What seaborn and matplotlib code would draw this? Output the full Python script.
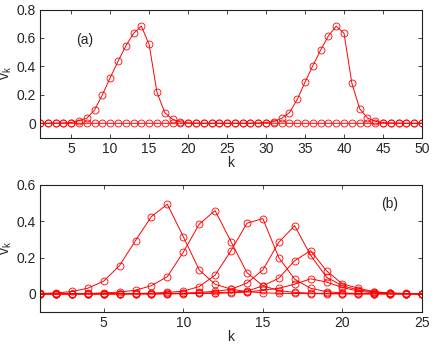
import numpy as np
import pandas as pd
import seaborn as sns
import matplotlib.pyplot as plt

# ----------------------------------------
# Data
# ----------------------------------------

k_top = np.arange(1, 51)
pulse_a = [0, 0, 0.001, 0.002, 0.005, 0.019, 0.035, 0.094, 0.2, 0.32,
           0.435, 0.543, 0.632, 0.683, 0.554, 0.218, 0.075, 0.028, 0.01, 0.003,
           0.001, 0, 0, 0, 0, 0, 0, 0, 0, 0,
           0, 0, 0, 0, 0, 0, 0, 0, 0, 0,
           0, 0, 0, 0, 0, 0, 0, 0, 0, 0]
pulse_b = [0, 0, 0, 0, 0, 0, 0, 0, 0, 0,
           0, 0, 0, 0, 0, 0, 0, 0, 0, 0,
           0, 0, 0, 0, 0, 0, 0, 0.001, 0.002, 0.005,
           0.012, 0.035, 0.075, 0.168, 0.29, 0.405, 0.515, 0.615, 0.683, 0.632,
           0.283, 0.103, 0.037, 0.014, 0.005, 0.002, 0.001, 0, 0, 0]

k_bot = np.arange(1, 26)
curve_1 = [0.002, 0.005, 0.013, 0.031, 0.07, 0.156, 0.294, 0.426, 0.494, 0.316,
           0.132, 0.053, 0.026, 0.012, 0.006, 0.003, 0.002, 0.001, 0, 0,
           0, 0, 0, 0, 0]
curve_2 = [0, 0, 0.001, 0.002, 0.005, 0.01, 0.02, 0.045, 0.095, 0.229,
           0.384, 0.459, 0.288, 0.117, 0.045, 0.018, 0.008, 0.004, 0.002, 0.001,
           0, 0, 0, 0, 0]
curve_3 = [0, 0, 0, 0, 0, 0.001, 0.002, 0.004, 0.008, 0.015,
           0.04, 0.103, 0.238, 0.389, 0.415, 0.2, 0.081, 0.031, 0.012, 0.005,
           0.002, 0.001, 0, 0, 0]
curve_4 = [0, 0, 0, 0, 0, 0, 0, 0.001, 0.002, 0.004,
           0.008, 0.014, 0.025, 0.059, 0.132, 0.284, 0.376, 0.213, 0.092, 0.044,
           0.022, 0.01, 0.004, 0.001, 0]
curve_5 = [0, 0, 0, 0, 0, 0, 0, 0, 0.001, 0.002,
           0.003, 0.006, 0.01, 0.015, 0.044, 0.086, 0.183, 0.238, 0.127, 0.055,
           0.031, 0.012, 0.005, 0.002, 0]
curve_6 = [0, 0, 0, 0, 0, 0, 0, 0, 0, 0.001,
           0.002, 0.003, 0.005, 0.01, 0.02, 0.031, 0.053, 0.083, 0.065, 0.035,
           0.015, 0.006, 0.002, 0, 0]

# ----------------------------------------
# Figure
# ----------------------------------------

sns.set_style("ticks")
plt.rcParams['font.family'] = ['Liberation Sans', 'DejaVu Sans']
plt.rcParams['mathtext.fontset'] = 'custom'
plt.rcParams['mathtext.rm'] = 'Liberation Sans'
plt.rcParams['mathtext.it'] = 'Liberation Sans'

fig = plt.figure(figsize=(4.36, 3.46), dpi=100)
ax1 = fig.add_axes([40 / 436, 1 - 137.5 / 346, 382 / 436, 128 / 346])
ax2 = fig.add_axes([40 / 436, 1 - 312 / 346, 382 / 436, 127 / 346])

line_style = dict(color='red', marker='o', markersize=5, markerfacecolor='none',
                  markeredgecolor='red', markeredgewidth=0.6, linewidth=0.7)

for vals in [pulse_a, pulse_b]:
    sns.lineplot(x=k_top, y=vals, ax=ax1, **line_style)
for vals in [curve_1, curve_2, curve_3, curve_4, curve_5, curve_6]:
    sns.lineplot(x=k_bot, y=vals, ax=ax2, **line_style)

ax1.set_xlim(1, 50)
ax1.set_ylim(-0.1, 0.8)
ax1.set_xticks([5, 10, 15, 20, 25, 30, 35, 40, 45, 50])
ax1.set_yticks([0, 0.2, 0.4, 0.6, 0.8])
ax1.set_yticklabels(['0', '0.2', '0.4', '0.6', '0.8'])
ax1.text(0.118, 0.76, '(a)', transform=ax1.transAxes, fontsize=10,
         ha='center', va='center')

ax2.set_xlim(1, 25)
ax2.set_ylim(-0.1, 0.6)
ax2.set_xticks([5, 10, 15, 20, 25])
ax2.set_yticks([0, 0.2, 0.4, 0.6])
ax2.set_yticklabels(['0', '0.2', '0.4', '0.6'])
ax2.text(0.916, 0.85, '(b)', transform=ax2.transAxes, fontsize=10,
         ha='center', va='center')

for ax in [ax1, ax2]:
    ax.tick_params(direction='in', top=True, right=True, length=3,
                   width=0.6, labelsize=10, pad=3)
    for sp in ax.spines.values():
        sp.set_linewidth(0.8)
        sp.set_color('#222222')
    ax.set_xlabel('k', fontsize=10, labelpad=0)
    ax.set_ylabel(r'v$_\mathrm{k}$', fontsize=10, labelpad=2)

fig.savefig('out.png', dpi=100)
